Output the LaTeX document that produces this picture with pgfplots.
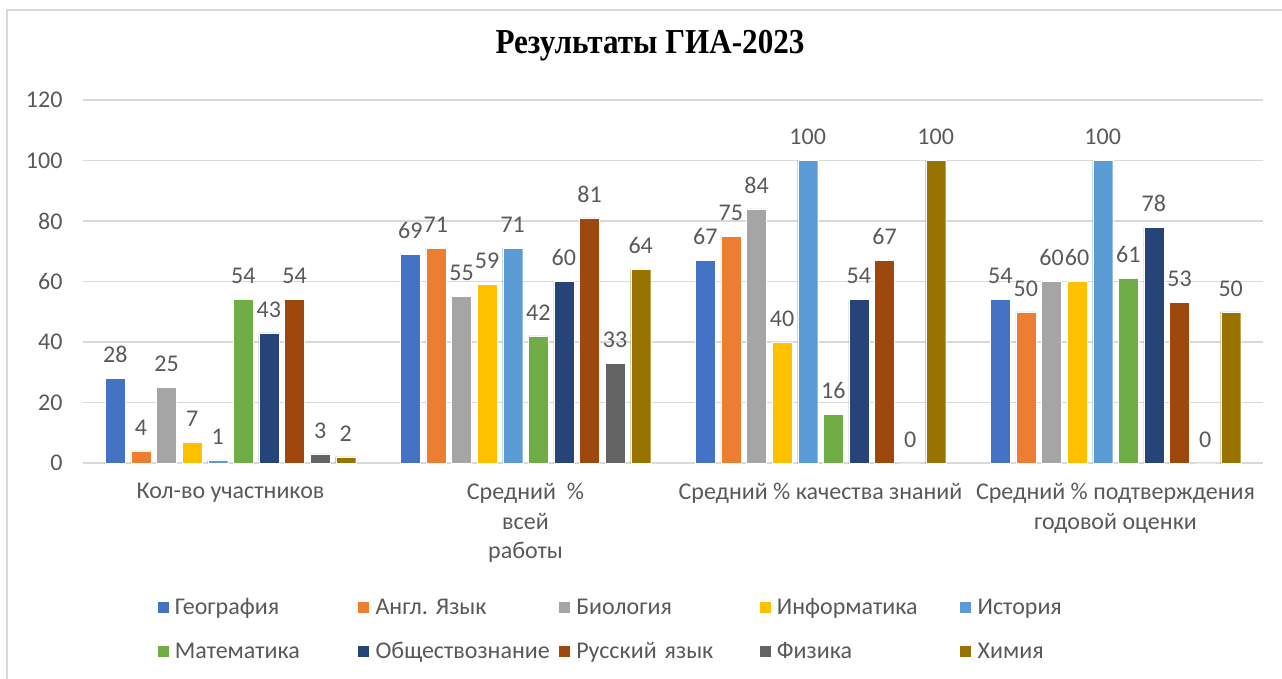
\documentclass[border=0pt]{standalone}
\usepackage{pgfplots}
\pgfplotsset{compat=1.18}
\usepackage{fontspec}
\setmainfont{Carlito}
\newfontfamily\titlefont{Liberation Serif}
\frenchspacing
\definecolor{c1}{HTML}{4472C4}
\definecolor{c2}{HTML}{ED7D31}
\definecolor{c3}{HTML}{A5A5A5}
\definecolor{c4}{HTML}{FFC000}
\definecolor{c5}{HTML}{5B9BD5}
\definecolor{c6}{HTML}{70AD47}
\definecolor{c7}{HTML}{264478}
\definecolor{c8}{HTML}{9E480E}
\definecolor{c9}{HTML}{636363}
\definecolor{c10}{HTML}{997300}
\definecolor{txt}{HTML}{595959}
\definecolor{gridc}{HTML}{D9D9D9}
\begin{document}
\begin{tikzpicture}
\path[use as bounding box] (0,0) rectangle (1282pt,-679pt);
\draw[gridc, line width=1.5pt] (7pt,-679pt) -- (7pt,-10pt) -- (1282pt,-10pt);
\node[font=\titlefont\bfseries\fontsize{35}{40}\selectfont, anchor=center] at (650pt,-46pt) {\scalebox{0.89}[1]{Результаты ГИА-2023}};
\begin{axis}[
  at={(83pt,-463pt)}, anchor=south west,
  scale only axis, width=1180pt, height=363pt,
  xmin=-0.5, xmax=3.5, ymin=0, ymax=120,
  ytick={0,20,...,120},
  xtick={0,1,2,3},
  xticklabels={Кол-во участников, {Средний \ \%\\всей\\работы}, Средний \% качества знаний, {Средний \% подтверждения\\годовой оценки}},
  xticklabel style={align=center, font=\fontsize{24}{29.5}\selectfont, text=txt},
  yticklabel style={font=\fontsize{24}{29}\selectfont, text=txt},
  /pgf/number format/assume math mode=true,
  ymajorgrids=true, xmajorgrids=false,
  grid style={draw=gridc, line width=1.2pt},
  major grid style={draw=gridc, line width=1.2pt},
  separate axis lines,
  axis x line*=bottom, axis y line*=left,
  x axis line style={draw=gridc, line width=1.2pt, -},
  y axis line style={draw=none},
  major tick length=0pt,
  xtick style={draw=none}, ytick style={draw=none},
  xticklabel shift=17pt, yticklabel shift=17pt,
  ybar=5.6pt, bar width=20pt,
  nodes near coords,
  nodes near coords style={font=\fontsize{24}{29}\selectfont, text=txt, yshift=12pt},
  every axis plot/.append style={draw=white, line width=0.4pt},
  legend columns=5,
  legend style={at={(0.4885,-0.362)}, anchor=north, draw=none, font=\fontsize{24}{29}\selectfont, text=txt,
    row sep=22pt},
  legend cell align=left,
  legend image code/.code={\fill[#1, draw=none] (0pt,-5.5pt) rectangle (11pt,5.5pt); \path (14pt,0pt);},
  legend style={nodes={text width=180.5pt, inner xsep=3pt}},
]
\addplot[fill=c1] coordinates {(0,28) (1,69) (2,67) (3,54)};
\addplot[fill=c2] coordinates {(0,4) (1,71) (2,75) (3,50)};
\addplot[fill=c3] coordinates {(0,25) (1,55) (2,84) (3,60)};
\addplot[fill=c4] coordinates {(0,7) (1,59) (2,40) (3,60)};
\addplot[fill=c5] coordinates {(0,1) (1,71) (2,100) (3,100)};
\addplot[fill=c6] coordinates {(0,54) (1,42) (2,16) (3,61)};
\addplot[fill=c7] coordinates {(0,43) (1,60) (2,54) (3,78)};
\addplot[fill=c8] coordinates {(0,54) (1,81) (2,67) (3,53)};
\addplot[fill=c9] coordinates {(0,3) (1,33) (2,0) (3,0)};
\addplot[fill=c10] coordinates {(0,2) (1,64) (2,100) (3,50)};
\legend{География, Англ. Язык, Биология, Информатика, История, Математика, Обществознание, Русский язык, Физика, Химия}
\end{axis}
\end{tikzpicture}
\end{document}
